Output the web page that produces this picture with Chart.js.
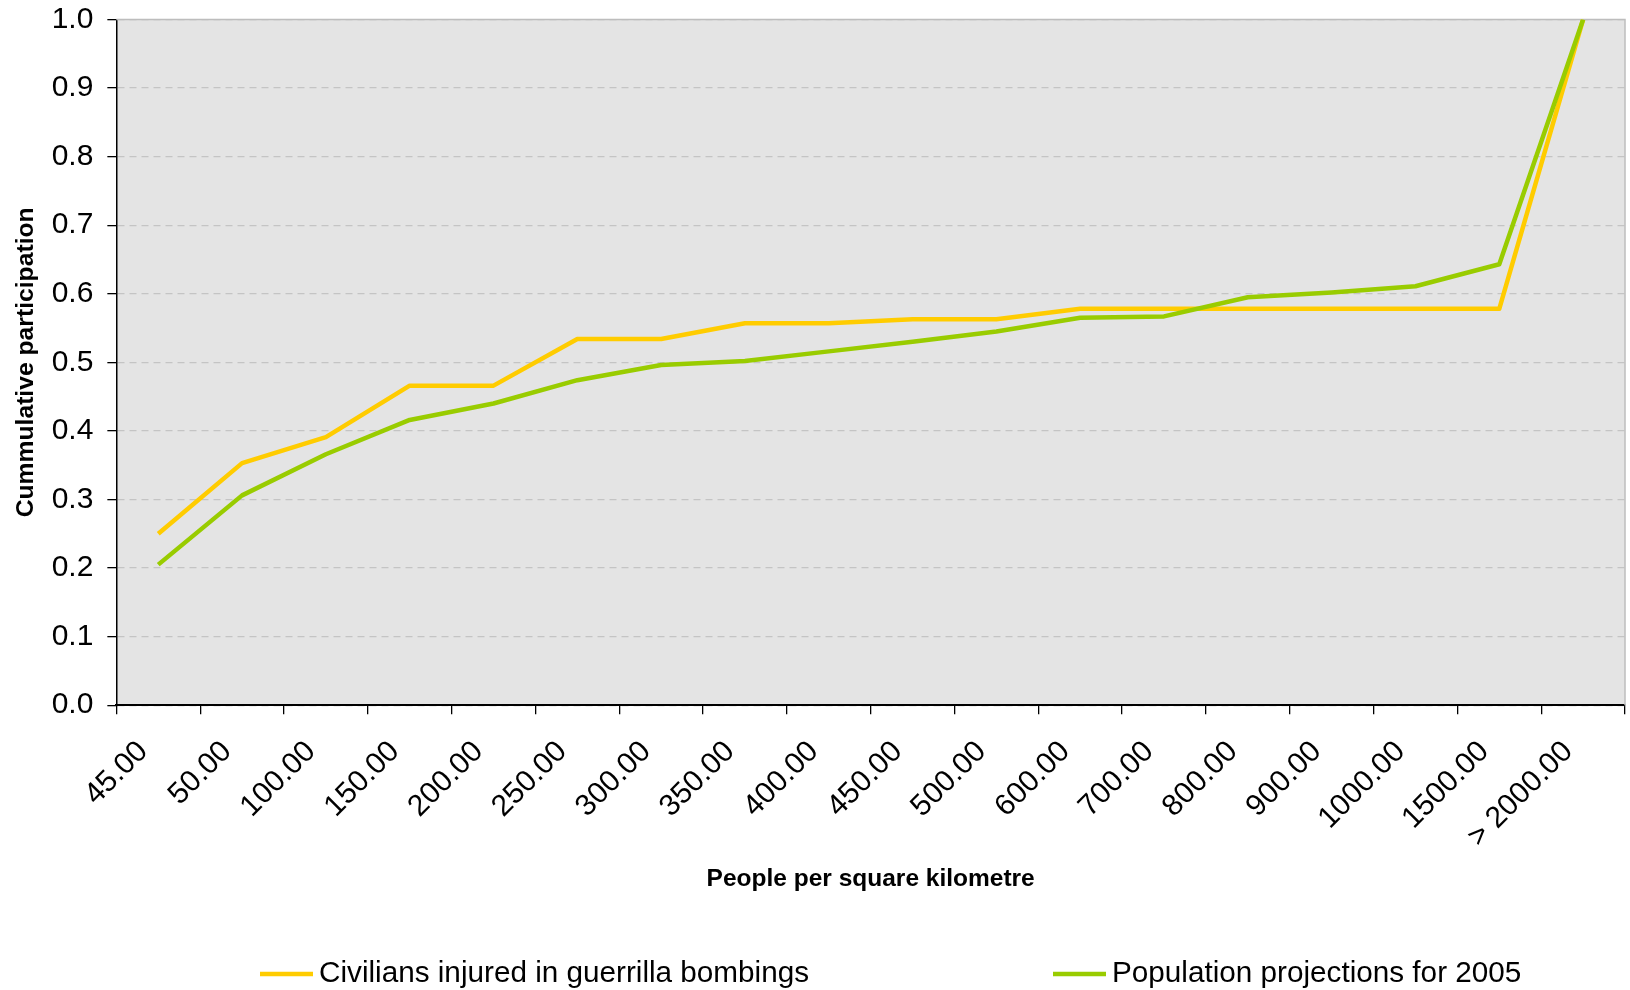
<!DOCTYPE html>
<html>
<head>
<meta charset="utf-8">
<script src="https://cdn.jsdelivr.net/npm/chart.js@4.4.1/dist/chart.umd.min.js"></script>
<style>
  html, body { margin: 0; padding: 0; background: #ffffff; }
  #wrap { width: 1630px; height: 990px; }
</style>
</head>
<body>
<div id="wrap"><canvas id="c" width="1630" height="990"></canvas></div>
<script>
const categories = ['45.00','50.00','100.00','150.00','200.00','250.00','300.00','350.00','400.00','450.00','500.00','600.00','700.00','800.00','900.00','1000.00','1500.00','> 2000.00'];
const civilians  = [0.250,0.353,0.391,0.466,0.466,0.534,0.534,0.557,0.557,0.563,0.563,0.578,0.578,0.578,0.578,0.578,0.578,1.000];
const population = [0.205,0.306,0.366,0.416,0.440,0.474,0.496,0.502,0.516,0.530,0.545,0.565,0.567,0.595,0.602,0.611,0.643,1.000];
const seriesNames = ['Civilians injured in guerrilla bombings','Population projections for 2005'];
const xTitle = 'People per square kilometre';
const yTitle = 'Cummulative participation';

const FONT = "'Liberation Sans', Arial, Helvetica, sans-serif";

const plotBg = {
  id: 'plotBg',
  beforeDraw(chart) {
    const {ctx, chartArea: a} = chart;
    ctx.save();
    ctx.fillStyle = '#e4e4e4';
    ctx.fillRect(a.left, a.top, a.right - a.left, a.bottom - a.top);
    ctx.restore();
  },
  beforeDatasetsDraw(chart) {
    const {ctx, chartArea: a} = chart;
    ctx.save();
    ctx.strokeStyle = '#bdbdbd';
    ctx.lineWidth = 1.5;
    ctx.beginPath();
    ctx.moveTo(a.left, a.top);
    ctx.lineTo(a.right, a.top);
    ctx.lineTo(a.right, a.bottom);
    ctx.stroke();
    ctx.restore();
  }
};

const lineLegend = {
  id: 'lineLegend',
  afterDraw(chart) {
    const {ctx} = chart;
    const items = chart.data.datasets.map(d => ({text: d.label, color: d.borderColor}));
    const starts = [260, 1053];
    const y = 974;
    ctx.save();
    ctx.font = '29.7px ' + FONT;
    ctx.textBaseline = 'middle';
    ctx.textAlign = 'left';
    items.forEach((it, i) => {
      const x = starts[i];
      ctx.strokeStyle = it.color;
      ctx.lineWidth = 4.5;
      ctx.lineCap = 'butt';
      ctx.beginPath();
      ctx.moveTo(x, y);
      ctx.lineTo(x + 53, y);
      ctx.stroke();
      ctx.fillStyle = '#000000';
      ctx.fillText(it.text, x + 59, y);
    });
    ctx.restore();
  }
};

new Chart(document.getElementById('c'), {
  type: 'line',
  data: {
    labels: categories,
    datasets: [
      { label: seriesNames[0], data: civilians, borderColor: '#ffcc00', backgroundColor: '#ffcc00',
        borderWidth: 4.5, pointRadius: 0, tension: 0, borderJoinStyle: 'round', order: 2 },
      { label: seriesNames[1], data: population, borderColor: '#99cc00', backgroundColor: '#99cc00',
        borderWidth: 4.5, pointRadius: 0, tension: 0, borderJoinStyle: 'round', order: 1 }
    ]
  },
  options: {
    responsive: false,
    animation: false,
    layout: { padding: { left: 0, right: 5, top: 19.5, bottom: 86 } },
    plugins: {
      legend: { display: false },
      tooltip: { enabled: false },
      title: { display: false }
    },
    scales: {
      x: {
        type: 'category',
        offset: true,
        grid: { display: true, drawOnChartArea: false, drawTicks: true, tickLength: 9, offset: true, color: '#000000', tickColor: '#000000', lineWidth: 1.3 },
        border: { display: true, color: '#000000', width: 2 },
        ticks: { autoSkip: false, maxRotation: 45, minRotation: 45, padding: 20, labelOffset: -15, color: '#000000', font: { family: FONT, size: 30 } },
        title: { display: true, text: xTitle, color: '#000000', font: { family: FONT, size: 24.5, weight: 'bold' }, padding: { top: -10, bottom: 10 } }
      },
      y: {
        min: 0, max: 1,
        afterFit(scale) { scale.paddingTop = 0; scale.paddingBottom = 0; },
        ticks: { stepSize: 0.1, padding: 14, color: '#000000', font: { family: FONT, size: 30 },
                 callback: v => Number(v).toFixed(1) },
        grid: { display: true, drawOnChartArea: true, drawTicks: true, tickLength: 9, color: '#c4c4c4', tickColor: '#000000', lineWidth: 1.3 },
        border: { display: true, color: '#000000', width: 1.5, dash: [7, 5] },
        title: { display: true, text: yTitle, color: '#000000', font: { family: FONT, size: 24.7, weight: 'bold' }, padding: { top: 11.5, bottom: -3.5 } }
      }
    }
  },
  plugins: [plotBg, lineLegend]
});
</script>
</body>
</html>
